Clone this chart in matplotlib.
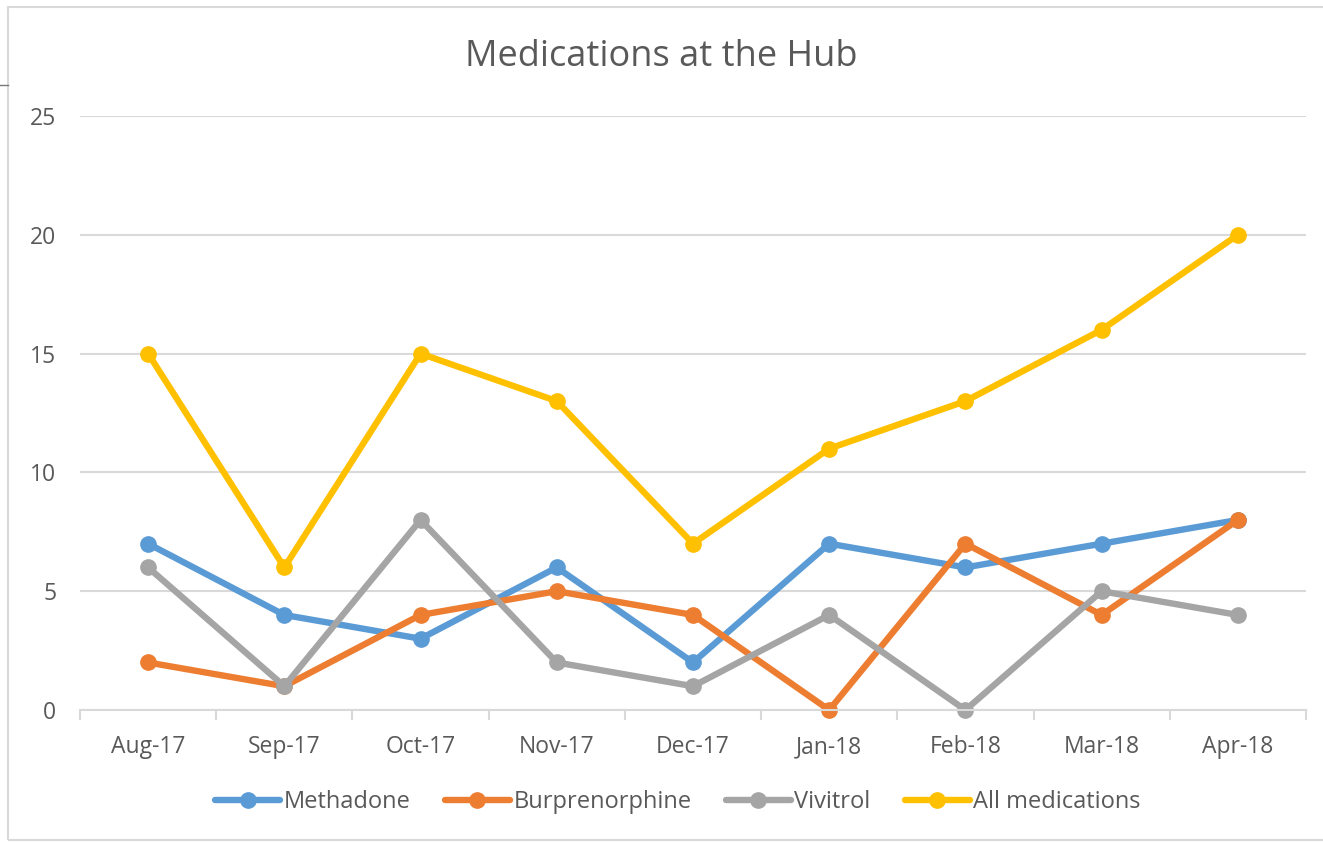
import matplotlib.pyplot as plt
from matplotlib.lines import Line2D
from matplotlib.patches import Rectangle

# Data
months = ["Aug-17", "Sep-17", "Oct-17", "Nov-17", "Dec-17",
          "Jan-18", "Feb-18", "Mar-18", "Apr-18"]
methadone = [7, 4, 3, 6, 2, 7, 6, 7, 8]
burprenorphine = [2, 1, 4, 5, 4, 0, 7, 4, 8]
vivitrol = [6, 1, 8, 2, 1, 4, 0, 5, 4]
all_meds = [15, 6, 15, 13, 7, 11, 13, 16, 20]
yticks = [0, 5, 10, 15, 20, 25]

series = [
    ("Methadone", methadone, "#5B9BD5"),
    ("Burprenorphine", burprenorphine, "#ED7D31"),
    ("Vivitrol", vivitrol, "#A5A5A5"),
    ("All medications", all_meds, "#FFC000"),
]

plt.rcParams['font.family'] = ['Open Sans', 'DejaVu Sans']
txtc = "#595959"
gridc = "#D9D9D9"

fig = plt.figure(figsize=(13.23, 8.43), dpi=100)
ax = fig.add_axes([80/1323, 1-710/843, (1306-80)/1323, (710-116)/843])

# chart border
fig.patches.append(Rectangle((8/1323, 3/843), 1.0, 833/843, transform=fig.transFigure,
                             fill=False, edgecolor=gridc, lw=1.5))
fig.add_artist(Line2D([0, 8/1323], [1-85/843, 1-85/843], transform=fig.transFigure,
                      color="#777777", lw=1))

x = list(range(len(months)))
for name, vals, col in series:
    ax.plot(x, vals, '-o', color=col, lw=4.6, markersize=11, label=name,
            solid_capstyle='round', clip_on=False)

ax.set_xlim(-0.5, len(months) - 0.5)
ax.set_ylim(0, 25)
ax.set_yticks(yticks)
ax.set_xticks(x)
ax.set_xticklabels(months)
ax.set_xticks([i - 0.5 for i in range(len(months) + 1)], minor=True)

ax.yaxis.grid(True, color=gridc, lw=1.5)
ax.set_axisbelow(True)
for s in ['top', 'right', 'left']:
    ax.spines[s].set_visible(False)
ax.spines['bottom'].set_color(gridc)
ax.spines['bottom'].set_linewidth(1.5)
ax.tick_params(axis='y', length=0, pad=17, labelsize=16.5, labelcolor=txtc)
ax.tick_params(axis='x', which='major', length=0, pad=18, labelsize=16.5, labelcolor=txtc)
ax.tick_params(axis='x', which='minor', length=7, width=1.5, color=gridc)

fig.text(0.5, 1-57/843, "Medications at the Hub", ha='center', va='center',
         fontsize=26, color=txtc)

leg = fig.legend(loc='center', bbox_to_anchor=(678/1323, 1-802/843), ncol=4, frameon=False,
                 fontsize=17, handlelength=2.75, handletextpad=0.15, columnspacing=1.45,
                 labelcolor=txtc)

fig.savefig('out.png', dpi=100)
